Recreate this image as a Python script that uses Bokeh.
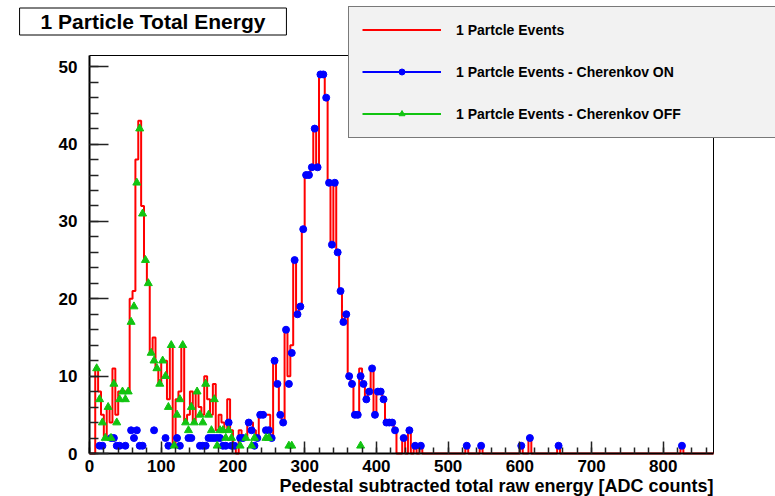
import numpy as np
from bokeh.plotting import figure
from bokeh.models import (Range1d, SingleIntervalTicker, Label, Legend, LegendItem,
                          LinearAxis)
from bokeh.embed import file_html
from bokeh.resources import INLINE

# ---------------- data ----------------
BIN_WIDTH = 4          # ADC counts per bin
N_BINS = 218
X_MAX = 870
Y_MAX = 51.45

# bins 0..115, Cherenkov ON (blue circles)
cherenkov_on = [0, 0, 0, 1, 1, 0, 0, 2, 2, 1,
                1, 0, 1, 0, 3, 2, 3, 1, 1, 0,
                0, 0, 3, 0, 0, 0, 2, 1, 0, 0,
                2, 1, 0, 0, 2, 2, 0, 0, 1, 1,
                1, 2, 2, 2, 2, 2, 1, 1, 4, 1,
                1, 0, 2, 2, 0, 4, 3, 1, 2, 5,
                5, 3, 3, 2, 12, 9, 5, 4, 16, 9,
                13, 25, 18, 19, 29, 36, 36, 37, 42, 37,
                49, 49, 46, 35, 27, 35, 26, 21, 17, 18,
                10, 9, 5, 5, 10, 9, 7, 8, 11, 5,
                8, 8, 7, 4, 4, 4, 3, 0, 0, 2,
                0, 3, 0, 1, 0, 1]

# bins 0..115, Cherenkov OFF (green triangles)
cherenkov_off = [0, 0, 11, 7, 4, 2, 6, 2, 9, 4,
                 7, 8, 7, 8, 17, 19, 35, 42, 31, 25,
                 22, 13, 12, 11, 9, 12, 10, 6, 14, 1,
                 5, 7, 14, 4, 3, 6, 4, 8, 5, 4,
                 9, 5, 3, 7, 1, 3, 3, 2, 3, 2,
                 0, 0, 1, 0, 2, 0, 1, 2, 0, 0,
                 0, 2, 2, 0, 0, 0, 0, 0, 0, 1,
                 1, 0, 0, 0, 0, 0, 0, 0, 0, 0,
                 0, 0, 0, 0, 0, 0, 0, 0, 0, 0,
                 0, 0, 0, 0, 1, 0, 0, 0, 0, 0,
                 0, 0, 0, 0, 0, 0, 0, 0, 0, 0,
                 0, 0, 0, 0, 0, 0]

# bins 0..115, all 1 particle events (red histogram)
all_events = [0, 0, 11, 8, 5, 2, 6, 4, 11, 5,
              8, 8, 8, 8, 20, 21, 38, 43, 32, 25,
              22, 13, 15, 11, 9, 12, 12, 7, 14, 1,
              7, 8, 14, 4, 5, 8, 4, 8, 6, 5,
              10, 7, 5, 9, 3, 5, 4, 3, 7, 3,
              1, 0, 3, 2, 2, 4, 4, 3, 2, 5,
              5, 5, 5, 2, 12, 9, 5, 4, 16, 10,
              14, 25, 18, 19, 29, 36, 36, 37, 42, 37,
              49, 49, 46, 35, 27, 35, 26, 21, 17, 18,
              10, 9, 5, 5, 11, 9, 7, 8, 11, 5,
              8, 8, 7, 4, 4, 4, 3, 0, 0, 2,
              0, 3, 0, 1, 0, 1]

# sparse high-energy tail (Cherenkov ON only)
tail_bins = [131, 136, 150, 153, 163, 206]
tail_counts = [1, 1, 1, 2, 1, 1]

x_ticks_interval = 100
y_ticks_interval = 10

title_text = "1 Particle Total Energy"
x_title = "Pedestal subtracted total raw energy [ADC counts]"
legend_labels = ["1 Partcle Events",
                 "1 Partcle Events - Cherenkov ON",
                 "1 Partcle Events - Cherenkov OFF"]

# ---------------- layout (pixels) ----------------
W, H = 775, 496
PX_LEFT, PX_RIGHT, PX_TOP, PX_BOTTOM = 89, 713, 55, 453
xs = (PX_RIGHT - PX_LEFT) / X_MAX
ys = (PX_BOTTOM - PX_TOP) / Y_MAX
x_lo = -PX_LEFT / xs
x_hi = X_MAX + (W - PX_RIGHT) / xs
y_lo = -(H - PX_BOTTOM) / ys
y_hi = Y_MAX + PX_TOP / ys

# ---------------- build arrays ----------------
on = np.zeros(N_BINS)
off = np.zeros(N_BINS)
tot = np.zeros(N_BINS)
on[:len(cherenkov_on)] = cherenkov_on
off[:len(cherenkov_off)] = cherenkov_off
tot[:len(all_events)] = all_events
on[tail_bins] = tail_counts
tot[tail_bins] = tail_counts

left = np.arange(N_BINS) * BIN_WIDTH
centers = left + BIN_WIDTH / 2.0
step_x = list(left) + [X_MAX]
step_y = list(tot) + [tot[-1]]

RED = "#ff0000"
BLUE = "#0000ff"
GREEN = "#11c411"
FONT = "Liberation Sans"

p = figure(width=W, height=H, output_backend="svg", toolbar_location=None,
           x_range=Range1d(x_lo, x_hi), y_range=Range1d(y_lo, y_hi),
           x_axis_location=None, y_axis_location=None,
           min_border_left=0, min_border_right=0, min_border_top=0,
           min_border_bottom=0)
p.xgrid.visible = False
p.ygrid.visible = False
p.background_fill_color = "white"
p.border_fill_color = "white"
p.outline_line_color = None

# frame lines (top and right)
p.line(x=[0, X_MAX, X_MAX], y=[Y_MAX, Y_MAX, 0], line_color="black", line_width=1)

r_red = p.step(x=step_x, y=step_y, mode="after", line_color=RED, line_width=2)

m_on = on > 0
m_off = off > 0
r_blue = p.scatter(x=centers[m_on], y=on[m_on], marker="circle", size=7,
                   fill_color=BLUE, line_color=BLUE)
r_green = p.scatter(x=centers[m_off], y=off[m_off], marker="triangle", size=8,
                    fill_color=GREEN, line_color=GREEN)
# legend-only line glyphs (nothing visible in the plot)
l_blue = p.line(x=[np.nan], y=[np.nan], line_color=BLUE, line_width=2)
l_green = p.line(x=[np.nan], y=[np.nan], line_color=GREEN, line_width=2)

xaxis = LinearAxis(fixed_location=0, bounds=(0, X_MAX),
                   ticker=SingleIntervalTicker(interval=x_ticks_interval, num_minor_ticks=5))
yaxis = LinearAxis(fixed_location=0, bounds=(0, Y_MAX),
                   ticker=SingleIntervalTicker(interval=y_ticks_interval, num_minor_ticks=5))
for ax in (xaxis, yaxis):
    ax.axis_line_width = 2
    ax.axis_line_color = "black"
    ax.major_tick_out = 0
    ax.minor_tick_out = 0
    ax.major_tick_line_color = "#222222"
    ax.minor_tick_line_color = "#222222"
    ax.major_tick_line_width = 1.5
    ax.minor_tick_line_width = 1.5
    ax.major_label_text_font = FONT
    ax.major_label_text_font_style = "bold"
    ax.major_label_text_font_size = "17px"
    ax.major_label_text_color = "black"
xaxis.major_tick_in = 12
xaxis.minor_tick_in = 6
yaxis.major_tick_in = 19
yaxis.minor_tick_in = 9
xaxis.major_label_standoff = 6
yaxis.major_label_standoff = 12
p.add_layout(xaxis, "below")
p.add_layout(yaxis, "left")

title = Label(x=152.5, y=H - 21, x_units="screen", y_units="screen", text=title_text,
              text_align="center", text_baseline="middle", text_font=FONT,
              text_font_style="bold", text_font_size="21px", text_color="black",
              background_fill_color="white", border_line_color="black",
              border_line_width=1,
              padding=dict(left=21, right=21, top=2, bottom=2))
p.add_layout(title)

xlab = Label(x=PX_RIGHT, y=H - 485, x_units="screen", y_units="screen", text=x_title,
             text_align="right", text_baseline="middle", text_font=FONT,
             text_font_style="bold", text_font_size="18px", text_color="black")
p.add_layout(xlab)

legend = Legend(items=[LegendItem(label=legend_labels[0], renderers=[r_red]),
                       LegendItem(label=legend_labels[1], renderers=[l_blue, r_blue]),
                       LegendItem(label=legend_labels[2], renderers=[l_green, r_green])],
                location=(348, H - 137.5), orientation="vertical", padding=13, spacing=22,
                margin=0, glyph_width=79, glyph_height=15, label_height=20,
                label_width=320, label_standoff=15, label_text_font=FONT,
                label_text_font_style="bold", label_text_font_size="14px",
                label_text_color="black", border_line_color="black",
                border_line_width=1, background_fill_color="#f2f2f2",
                background_fill_alpha=1.0)
p.add_layout(legend)

open("out.html", "w").write(file_html(p, INLINE))
